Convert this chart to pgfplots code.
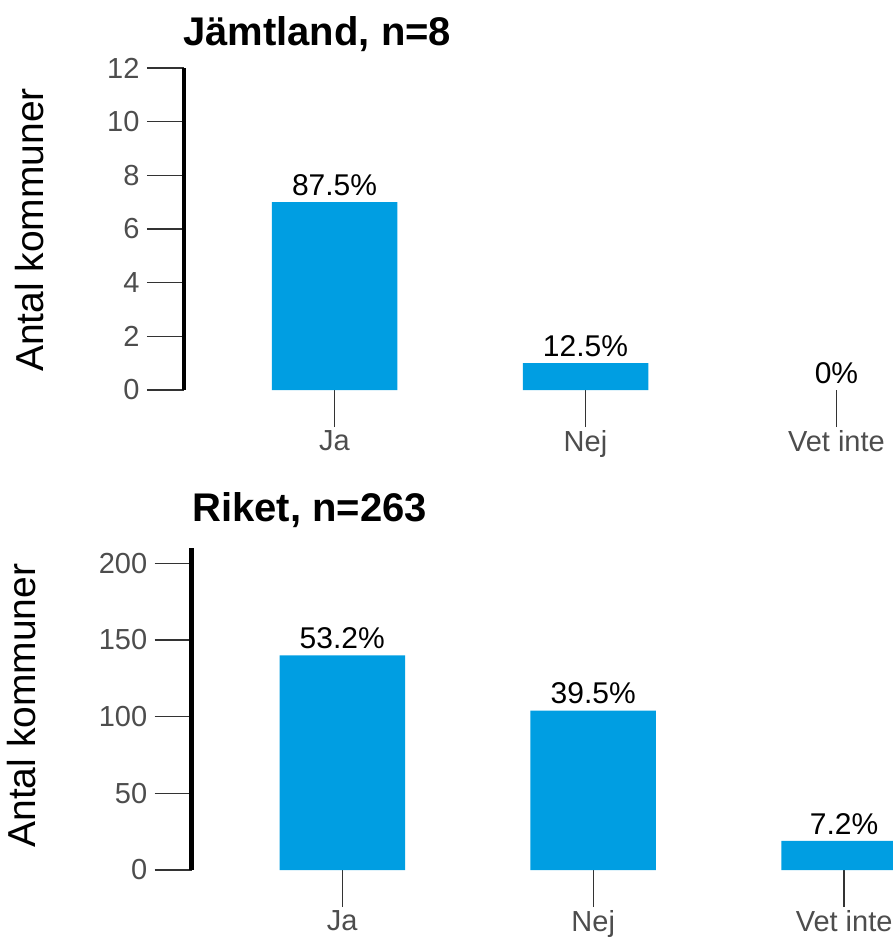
\documentclass[border=0pt]{standalone}
\usepackage{pgfplots}
\pgfplotsset{compat=1.18}
\usepackage{fontspec}
\setmainfont{Liberation Sans}
\definecolor{barblue}{RGB}{0,158,226}
\definecolor{tickgray}{RGB}{77,77,77}
\definecolor{tickline}{RGB}{51,51,51}
\pgfplotsset{
  panel/.style={
    scale only axis, width=803pt, height=322pt, anchor=south west,
    xmin=-0.6, xmax=2.6, ymin=0,
    enlargelimits=false, clip=false,
    axis x line*=bottom, axis y line*=left,
    x axis line style={draw=none},
    y axis line style={-, line width=4.5pt, black},
    tick align=outside, major tick length=37pt,
    tick style={tickline, line width=1.3pt},
    xtick={0,1,2}, xticklabels={Ja,Nej,Vet inte},
    ticklabel style={font=\fontsize{29}{34}\selectfont, text=tickgray},
    yticklabel style={xshift=-4pt},
    /pgf/number format/assume math mode=true,
    bar width=125.5pt,
    nodes near coords, point meta=explicit symbolic,
    every node near coord/.append style={font=\fontsize{30}{34}\selectfont, text=black, anchor=south, inner sep=0pt, yshift=6.5pt},
  }
}
\begin{document}
\begin{tikzpicture}
\useasboundingbox (0pt,0pt) rectangle (893pt,-946pt);
\clip (0pt,0pt) rectangle (893pt,-946pt);
\begin{axis}[panel, at={(184pt,-390pt)}, ymax=12, ytick={0,2,4,6,8,10,12}]
\addplot[ybar, fill=barblue, draw=none] coordinates {(0,7) [87.5\%] (1,1) [12.5\%]};
\addplot[draw=none, mark=none] coordinates {(2,0) [0\%]};
\end{axis}
\begin{axis}[panel, at={(191.7pt,-870pt)}, ymax=210, ytick={0,50,100,150,200}]
\addplot[ybar, fill=barblue, draw=none] coordinates {(0,140) [53.2\%] (1,104) [39.5\%] (2,19) [7.2\%]};
\end{axis}
\node[anchor=base west, font=\bfseries\fontsize{40}{48}\selectfont, inner sep=0pt] at (183pt,-45pt) {Jämtland, n=8};
\node[anchor=base west, font=\bfseries\fontsize{40}{48}\selectfont, inner sep=0pt] at (192pt,-521.7pt) {Riket, n=263};
\node[rotate=90, anchor=base, font=\fontsize{39}{46}\selectfont, inner sep=0pt] at (43pt,-230pt) {Antal kommuner};
\node[rotate=90, anchor=base, font=\fontsize{39}{46}\selectfont, inner sep=0pt] at (35pt,-705.6pt) {Antal kommuner};
\end{tikzpicture}
\end{document}
